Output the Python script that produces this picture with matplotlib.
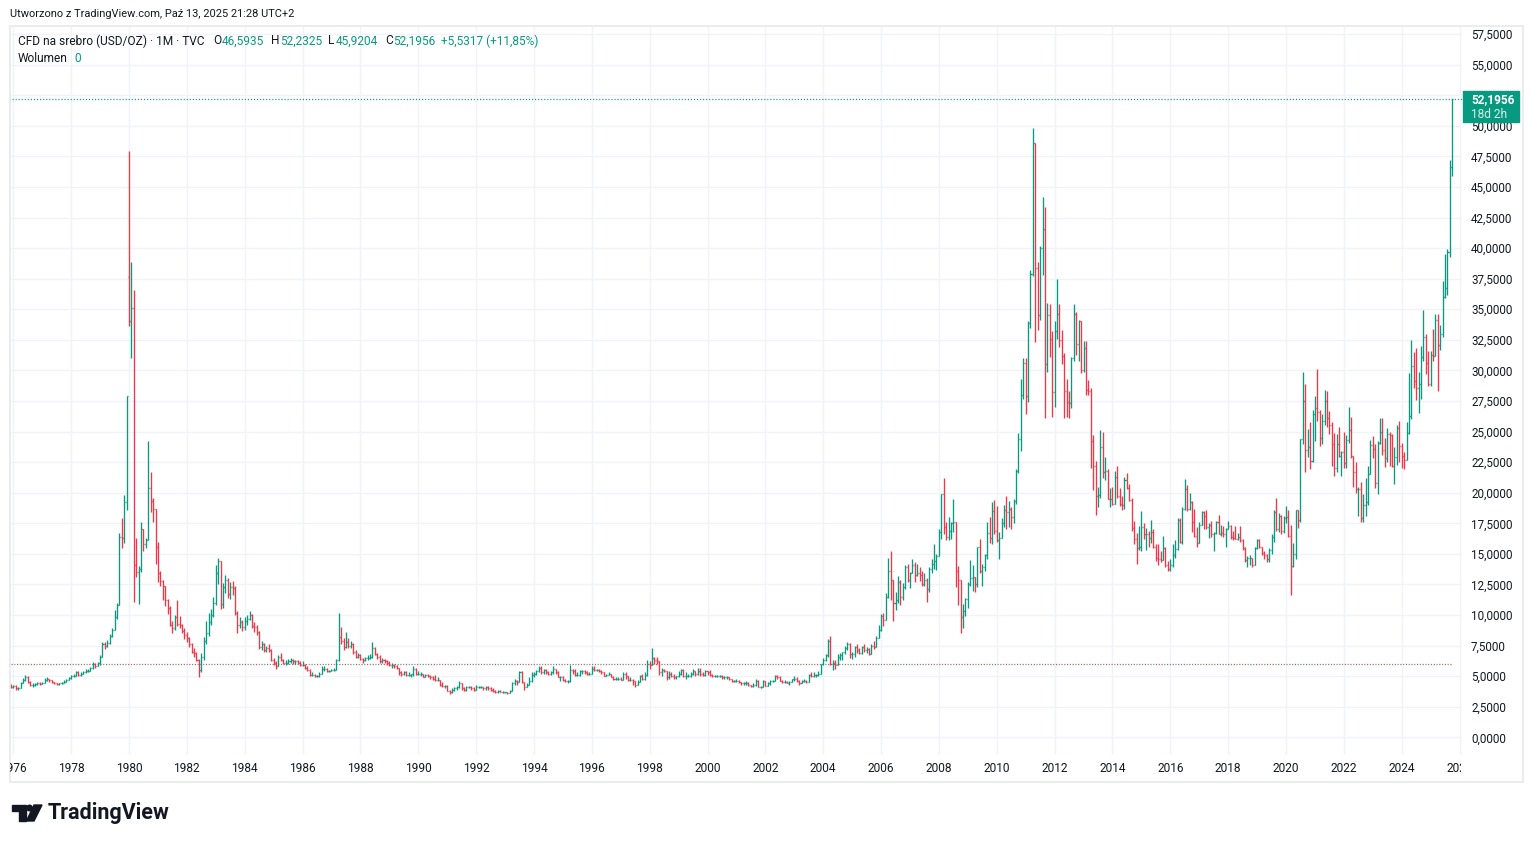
import numpy as np
import matplotlib
matplotlib.use("Agg")
import matplotlib.pyplot as plt
from matplotlib.collections import LineCollection
from matplotlib.patches import Rectangle, Polygon, Circle
from matplotlib.ticker import FuncFormatter
from matplotlib.transforms import Bbox, IdentityTransform, blended_transform_factory

plt.rcParams["lines.scale_dashes"] = False

# miesieczne swiece srebra, Gru 1975 .. Paz 2025
close_1975_79 = [
    4.15,
    4.20, 4.00, 4.05, 4.45, 4.70, 4.95, 4.55, 4.30, 4.30, 4.35, 4.40, 4.38,
    4.45, 4.70, 4.78, 4.65, 4.50, 4.40, 4.35, 4.40, 4.45, 4.55, 4.70, 4.85,
    5.00, 5.05, 5.35, 5.10, 5.20, 5.30, 5.45, 5.45, 5.65, 6.00, 5.85, 6.05,
    6.60, 7.60, 7.45, 7.70, 8.30, 8.80, 9.80, 10.80, 16.40, 16.30, 19.20, 27.90,
]
high_1975_79 = [
    4.35,
    4.30, 4.25, 4.15, 4.55, 4.85, 5.10, 5.00, 4.60, 4.40, 4.45, 4.50, 4.50,
    4.50, 4.85, 4.90, 4.80, 4.68, 4.55, 4.45, 4.48, 4.55, 4.65, 4.78, 4.92,
    5.10, 5.15, 5.45, 5.40, 5.35, 5.45, 5.55, 5.60, 5.75, 6.15, 6.10, 6.15,
    6.70, 7.80, 7.80, 7.95, 8.45, 8.90, 10.40, 11.00, 16.70, 17.90, 19.80, 27.90,
]
low_1975_79 = [
    4.05,
    4.05, 3.90, 3.85, 4.00, 4.40, 4.60, 4.45, 4.20, 4.15, 4.20, 4.28, 4.30,
    4.35, 4.42, 4.60, 4.55, 4.40, 4.32, 4.28, 4.30, 4.35, 4.42, 4.52, 4.65,
    4.80, 4.90, 5.00, 5.00, 5.05, 5.15, 5.25, 5.30, 5.40, 5.60, 5.70, 5.80,
    5.95, 6.55, 7.20, 7.40, 7.60, 8.20, 8.80, 9.70, 10.90, 15.50, 15.90, 18.60,
]

close_1980s = [
    34.0, 35.1, 14.1, 13.5, 13.8, 17.0, 15.8, 16.1, 20.4, 19.3, 18.7, 15.6,
    13.4, 12.8, 12.4, 11.2, 10.6, 9.2, 8.9, 9.8, 9.3, 9.2, 8.7, 8.4,
    8.1, 7.6, 7.0, 6.9, 6.3, 5.5, 6.6, 7.9, 8.5, 9.4, 10.0, 11.0,
    13.4, 14.4, 10.9, 12.3, 12.9, 11.7, 12.3, 12.2, 10.2, 9.2, 9.4, 9.0,
    9.5, 9.7, 10.0, 9.1, 9.0, 8.6, 7.4, 7.6, 7.1, 7.3, 7.1, 6.3,
    6.1, 5.8, 6.6, 6.3, 6.1, 6.1, 6.2, 6.3, 6.2, 6.2, 6.1, 5.9,
    5.9, 5.7, 5.5, 5.1, 5.1, 5.0, 5.0, 5.2, 5.6, 5.6, 5.4, 5.4,
    5.5, 5.5, 6.3, 8.2, 7.9, 7.4, 7.8, 7.5, 7.6, 7.0, 6.6, 6.7,
    6.4, 6.3, 6.5, 6.5, 6.6, 7.3, 6.8, 6.6, 6.2, 6.3, 6.2, 6.1,
    5.9, 5.9, 5.8, 5.7, 5.3, 5.2, 5.3, 5.1, 5.1, 5.2, 5.6, 5.2,
]
high_1980s = [
    47.9, 38.9, 36.6, 16.3, 14.0, 17.6, 16.8, 16.3, 24.2, 21.7, 19.6, 18.7,
    16.0, 13.6, 12.9, 12.0, 11.3, 10.7, 9.5, 10.0, 11.2, 9.9, 9.3, 8.9,
    8.6, 8.2, 7.7, 7.3, 7.0, 6.4, 6.9, 8.2, 9.5, 10.2, 10.5, 11.5,
    14.1, 14.7, 14.2, 12.6, 13.3, 13.0, 12.7, 12.8, 12.4, 10.3, 9.8, 9.6,
    9.8, 10.0, 10.3, 10.1, 9.4, 9.2, 8.7, 7.9, 7.7, 7.5, 7.6, 7.2,
    6.5, 6.2, 6.7, 6.9, 6.4, 6.3, 6.4, 6.5, 6.4, 6.3, 6.3, 6.2,
    6.2, 6.0, 5.8, 5.6, 5.3, 5.2, 5.1, 5.3, 5.8, 5.8, 5.7, 5.5,
    5.6, 5.7, 6.4, 10.2, 9.0, 8.1, 8.6, 8.1, 7.9, 7.7, 7.1, 6.9,
    6.8, 6.5, 6.6, 6.7, 6.8, 7.8, 7.4, 6.9, 6.7, 6.5, 6.4, 6.3,
    6.2, 6.1, 6.0, 5.9, 5.7, 5.4, 5.4, 5.4, 5.3, 5.2, 5.8, 5.7,
]
low_1980s = [
    33.6, 31.0, 11.1, 13.1, 10.9, 13.5, 15.2, 15.5, 16.1, 18.4, 17.6, 14.2,
    12.7, 12.4, 11.2, 10.7, 10.1, 9.1, 8.5, 8.8, 9.1, 8.9, 8.5, 8.0,
    7.8, 7.4, 6.9, 6.6, 6.2, 4.9, 5.3, 6.3, 7.6, 8.3, 9.2, 9.8,
    10.8, 12.5, 10.5, 10.6, 11.8, 11.4, 11.3, 11.6, 10.0, 8.5, 8.9, 8.7,
    8.8, 9.2, 9.6, 8.9, 8.6, 8.4, 7.2, 7.1, 7.0, 7.0, 7.0, 6.2,
    5.9, 5.6, 5.8, 6.2, 6.0, 5.9, 6.0, 6.1, 6.0, 6.0, 6.0, 5.8,
    5.8, 5.6, 5.4, 5.0, 5.0, 4.9, 4.9, 4.9, 5.2, 5.4, 5.3, 5.3,
    5.4, 5.4, 5.5, 6.2, 7.6, 7.1, 7.3, 7.3, 7.3, 6.8, 6.5, 6.5,
    6.3, 6.1, 6.2, 6.3, 6.4, 6.5, 6.7, 6.4, 6.1, 6.1, 6.1, 5.9,
    5.8, 5.7, 5.7, 5.6, 5.1, 5.0, 5.1, 5.0, 5.0, 4.9, 5.0, 5.1,
]

close_1990s = [
    5.2, 5.2, 4.9, 5.1, 5.0, 4.9, 4.8, 4.7, 4.7, 4.3, 4.2, 4.2,
    3.8, 3.7, 3.9, 4.0, 4.1, 4.4, 4.0, 3.9, 4.1, 4.1, 4.0, 3.9,
    4.1, 4.1, 4.1, 4.0, 4.1, 4.0, 3.9, 3.8, 3.7, 3.8, 3.7, 3.7,
    3.7, 3.6, 3.8, 4.4, 4.6, 4.5, 5.3, 4.5, 4.1, 4.3, 4.6, 5.1,
    5.2, 5.4, 5.7, 5.3, 5.5, 5.3, 5.2, 5.3, 5.6, 5.3, 4.9, 4.9,
    4.7, 4.6, 4.6, 5.5, 5.4, 5.1, 5.1, 5.4, 5.4, 5.3, 5.2, 5.2,
    5.6, 5.5, 5.5, 5.4, 5.3, 5.0, 5.1, 5.2, 4.9, 4.8, 4.8, 4.8,
    4.7, 5.2, 5.0, 4.7, 4.7, 4.6, 4.3, 4.5, 5.0, 4.8, 5.1, 6.0,
    5.9, 6.5, 6.3, 6.2, 5.3, 5.5, 5.4, 4.9, 5.2, 5.0, 4.9, 5.0,
    5.2, 5.5, 5.0, 5.0, 5.0, 5.2, 5.4, 5.2, 5.4, 5.2, 5.1, 5.4,
]
high_1990s = [
    5.4, 5.3, 5.2, 5.2, 5.2, 5.1, 5.0, 5.1, 4.9, 4.7, 4.5, 4.3,
    4.3, 3.9, 4.0, 4.1, 4.2, 4.6, 4.4, 4.1, 4.2, 4.2, 4.2, 4.1,
    4.3, 4.2, 4.2, 4.1, 4.2, 4.2, 4.1, 4.0, 3.9, 3.9, 3.9, 3.8,
    3.7, 3.7, 3.9, 4.5, 4.8, 4.7, 5.4, 5.4, 4.5, 4.4, 4.9, 5.3,
    5.3, 5.5, 5.8, 5.8, 5.6, 5.6, 5.4, 5.4, 5.8, 5.6, 5.4, 5.0,
    5.0, 4.8, 4.7, 5.9, 5.6, 5.6, 5.3, 5.5, 5.5, 5.5, 5.4, 5.3,
    5.8, 5.8, 5.6, 5.6, 5.5, 5.3, 5.2, 5.3, 5.2, 5.0, 4.9, 4.9,
    4.9, 5.3, 5.3, 5.0, 4.9, 4.8, 4.6, 4.7, 5.1, 5.2, 5.3, 6.3,
    6.2, 7.3, 6.6, 6.6, 6.2, 5.7, 5.6, 5.4, 5.4, 5.3, 5.2, 5.0,
    5.4, 5.6, 5.6, 5.3, 5.2, 5.3, 5.6, 5.4, 5.7, 5.7, 5.3, 5.5,
]
low_1990s = [
    5.1, 5.0, 4.9, 4.9, 4.9, 4.8, 4.7, 4.6, 4.6, 4.2, 4.1, 4.0,
    3.8, 3.55, 3.6, 3.8, 3.9, 4.0, 3.9, 3.8, 3.8, 4.0, 3.9, 3.8,
    3.9, 4.0, 4.0, 3.9, 3.9, 3.9, 3.8, 3.7, 3.6, 3.6, 3.7, 3.6,
    3.6, 3.5, 3.6, 3.8, 4.3, 4.3, 4.5, 4.4, 3.9, 4.1, 4.3, 4.5,
    4.9, 5.1, 5.3, 5.2, 5.2, 5.2, 5.1, 5.1, 5.2, 5.2, 4.9, 4.6,
    4.6, 4.5, 4.4, 4.5, 5.2, 5.0, 5.0, 5.0, 5.2, 5.2, 5.1, 5.1,
    5.2, 5.4, 5.4, 5.3, 5.2, 5.0, 5.0, 5.1, 4.9, 4.7, 4.7, 4.7,
    4.7, 4.7, 4.8, 4.6, 4.6, 4.3, 4.15, 4.3, 4.5, 4.7, 4.7, 5.0,
    5.6, 6.0, 6.0, 6.0, 5.1, 5.0, 5.3, 4.7, 4.8, 4.9, 4.8, 4.8,
    4.9, 5.1, 4.9, 4.8, 4.9, 4.9, 5.1, 5.0, 5.1, 5.0, 5.0, 5.0,
]

close_2000s = [
    5.3, 5.1, 5.0, 5.0, 5.0, 5.0, 4.9, 4.9, 4.9, 4.8, 4.6, 4.6,
    4.6, 4.5, 4.4, 4.4, 4.4, 4.3, 4.2, 4.3, 4.6, 4.1, 4.1, 4.6,
    4.2, 4.4, 4.6, 4.6, 5.0, 4.9, 4.6, 4.5, 4.5, 4.4, 4.5, 4.8,
    4.8, 4.6, 4.4, 4.6, 4.6, 4.5, 5.1, 5.0, 5.1, 5.1, 5.2, 6.0,
    6.3, 6.7, 7.9, 6.0, 6.1, 5.9, 6.6, 6.7, 7.0, 7.3, 7.6, 6.8,
    6.8, 7.4, 7.1, 6.9, 7.4, 7.1, 7.2, 6.8, 7.5, 7.4, 8.1, 8.8,
    9.9, 9.6, 11.5, 13.6, 12.9, 11.0, 11.2, 12.7, 11.5, 12.3, 13.9, 12.9,
    13.4, 14.1, 13.3, 13.4, 13.3, 12.5, 12.9, 12.1, 13.8, 14.2, 14.4, 14.8,
    16.8, 19.9, 17.2, 16.4, 16.9, 17.5, 17.6, 13.6, 12.9, 9.8, 10.3, 11.3,
    12.5, 13.0, 13.1, 12.5, 15.6, 13.6, 13.9, 14.9, 16.7, 16.3, 18.5, 16.9,
]
high_2000s = [
    5.4, 5.5, 5.2, 5.1, 5.1, 5.1, 5.1, 5.0, 5.0, 4.9, 4.8, 4.7,
    4.8, 4.7, 4.5, 4.5, 4.6, 4.5, 4.3, 4.4, 4.8, 4.7, 4.2, 4.7,
    4.6, 4.5, 4.7, 4.7, 5.1, 5.1, 5.0, 4.7, 4.7, 4.6, 4.6, 4.8,
    5.0, 4.9, 4.7, 4.7, 4.8, 4.7, 5.2, 5.3, 5.3, 5.2, 5.4, 6.0,
    6.5, 6.8, 8.0, 8.3, 6.3, 6.3, 6.8, 6.9, 7.0, 7.5, 7.8, 7.7,
    7.0, 7.5, 7.6, 7.3, 7.5, 7.6, 7.4, 7.3, 7.6, 7.9, 8.3, 9.2,
    10.1, 10.2, 11.8, 14.7, 15.2, 12.8, 11.9, 13.2, 12.9, 12.6, 14.1, 14.2,
    13.5, 14.6, 14.3, 14.2, 13.9, 13.6, 13.4, 13.0, 13.9, 14.6, 15.8, 15.0,
    17.0, 19.9, 21.2, 17.6, 18.0, 17.6, 19.5, 17.4, 14.0, 12.9, 10.9, 11.4,
    12.7, 14.5, 14.1, 13.1, 15.6, 16.2, 14.2, 15.0, 17.6, 18.0, 19.2, 19.4,
]
low_2000s = [
    5.1, 5.0, 4.9, 4.9, 4.9, 4.9, 4.8, 4.8, 4.8, 4.7, 4.5, 4.5,
    4.5, 4.4, 4.3, 4.3, 4.3, 4.2, 4.1, 4.1, 4.2, 4.1, 4.0, 4.1,
    4.2, 4.2, 4.3, 4.5, 4.6, 4.8, 4.6, 4.4, 4.4, 4.4, 4.3, 4.5,
    4.6, 4.5, 4.3, 4.4, 4.5, 4.4, 4.5, 4.9, 4.9, 4.9, 5.0, 5.2,
    5.9, 6.2, 6.6, 5.9, 5.5, 5.6, 5.9, 6.3, 6.3, 6.8, 7.1, 6.5,
    6.4, 6.6, 6.9, 6.8, 6.8, 7.0, 6.9, 6.7, 6.8, 7.2, 7.4, 8.1,
    8.7, 9.1, 9.6, 11.4, 11.2, 9.5, 10.4, 11.0, 10.8, 11.2, 12.1, 12.7,
    12.2, 13.4, 12.7, 13.2, 12.8, 12.4, 12.4, 11.1, 11.9, 13.4, 13.8, 13.7,
    14.8, 16.2, 16.6, 16.1, 16.1, 16.2, 16.8, 12.3, 10.8, 8.5, 8.9, 9.9,
    10.6, 12.4, 12.0, 11.9, 12.3, 13.4, 12.4, 13.6, 14.6, 15.9, 15.8, 16.6,
]

close_2010s = [
    16.1, 16.3, 17.5, 18.6, 18.4, 18.7, 18.0, 19.3, 21.8, 24.4, 28.0, 30.6,
    27.9, 33.9, 37.9, 48.6, 38.4, 34.5, 40.0, 41.6, 30.5, 34.5, 32.6, 28.2,
    33.2, 34.6, 32.5, 31.2, 28.3, 27.4, 27.3, 31.0, 34.6, 32.2, 34.0, 30.0,
    31.8, 28.4, 28.3, 24.2, 22.2, 19.7, 19.8, 23.7, 21.7, 21.8, 19.5, 19.5,
    19.1, 21.3, 19.7, 19.1, 19.0, 21.0, 20.4, 19.4, 17.1, 16.2, 15.5, 15.6,
    17.2, 16.6, 16.6, 16.3, 16.8, 15.6, 14.7, 14.6, 14.5, 15.5, 14.1, 13.8,
    14.1, 14.9, 15.4, 17.8, 16.0, 18.7, 20.3, 18.7, 19.2, 17.6, 16.5, 15.9,
    17.4, 18.4, 18.1, 17.2, 17.4, 16.6, 16.7, 17.6, 16.6, 16.7, 16.6, 17.0,
    17.3, 16.4, 16.3, 16.2, 16.4, 16.1, 15.5, 14.5, 14.7, 14.7, 14.1, 15.5,
    16.1, 15.6, 15.1, 14.9, 14.6, 15.3, 16.4, 18.4, 17.0, 18.1, 16.9, 17.9,
]
high_2010s = [
    18.9, 16.8, 17.9, 19.0, 19.7, 19.3, 18.8, 19.5, 21.9, 24.9, 29.3, 31.0,
    31.0, 34.0, 38.2, 49.8, 48.0, 38.9, 40.2, 44.2, 43.4, 35.5, 35.4, 33.2,
    34.0, 37.5, 35.4, 33.3, 31.4, 29.3, 28.3, 31.1, 35.4, 34.8, 34.1, 34.0,
    32.4, 32.4, 29.2, 28.6, 24.7, 22.6, 20.5, 25.1, 25.0, 22.9, 21.9, 20.4,
    20.5, 21.8, 22.2, 20.4, 19.7, 21.3, 21.6, 20.7, 19.6, 17.7, 16.7, 17.3,
    18.5, 17.5, 17.1, 16.9, 17.8, 17.0, 15.8, 15.8, 15.2, 16.5, 15.6, 14.4,
    14.6, 15.8, 16.1, 17.9, 17.9, 18.8, 21.1, 20.6, 20.0, 19.3, 18.7, 17.2,
    17.6, 18.5, 18.5, 18.6, 17.5, 17.7, 16.8, 17.7, 18.2, 17.4, 17.3, 17.1,
    17.7, 17.4, 16.9, 17.3, 16.7, 17.3, 16.2, 15.6, 14.8, 14.9, 14.7, 15.6,
    16.2, 16.2, 15.6, 15.2, 15.0, 15.5, 16.6, 18.6, 19.6, 18.3, 18.2, 18.1,
]
low_2010s = [
    16.0, 14.6, 16.4, 17.2, 17.0, 17.2, 17.0, 17.5, 19.1, 21.6, 23.4, 27.7,
    26.4, 27.4, 33.5, 37.7, 32.3, 33.3, 34.1, 37.8, 26.1, 29.9, 31.1, 26.2,
    27.0, 32.6, 31.9, 30.5, 26.1, 26.2, 26.1, 26.9, 30.8, 31.3, 30.8, 29.8,
    29.9, 28.0, 28.0, 22.0, 20.2, 18.2, 18.8, 19.6, 21.2, 21.0, 19.5, 18.8,
    19.0, 19.4, 19.6, 18.9, 18.6, 18.7, 20.3, 19.3, 16.9, 15.8, 14.2, 15.3,
    15.2, 16.2, 15.3, 15.6, 15.9, 15.5, 14.4, 14.1, 14.3, 14.5, 13.9, 13.6,
    13.6, 13.9, 14.7, 15.3, 15.9, 15.8, 18.6, 18.5, 18.6, 16.8, 16.4, 15.6,
    15.9, 17.4, 17.0, 17.0, 16.3, 16.4, 15.2, 16.6, 16.6, 16.5, 16.4, 15.6,
    17.0, 16.2, 16.1, 16.2, 16.1, 16.0, 15.3, 14.3, 13.9, 14.1, 13.9, 14.1,
    15.4, 15.5, 14.9, 14.6, 14.3, 14.3, 15.0, 16.0, 16.9, 16.8, 16.6, 16.7,
]

close_2020s = [
    18.0, 16.5, 14.0, 15.0, 18.6, 17.8, 24.4, 27.5, 23.5, 23.7, 22.6, 26.4,
    26.9, 26.6, 24.5, 25.9, 27.5, 26.1, 25.5, 24.0, 22.0, 24.0, 23.0, 23.3,
    22.4, 24.3, 25.1, 23.0, 21.7, 20.3, 20.3, 17.9, 19.0, 19.2, 21.5, 23.9,
    23.6, 20.8, 24.1, 25.0, 23.5, 22.8, 24.8, 24.7, 22.2, 22.9, 25.3, 23.8,
    23.0, 22.7, 24.9, 26.3, 30.4, 29.1, 28.6, 28.9, 31.1, 32.7, 30.6, 28.9,
    31.3, 31.2, 34.1, 32.1, 33.0, 36.0, 36.7, 39.7, 46.6, 52.1956,
]
high_2020s = [
    18.9, 18.6, 17.4, 15.9, 18.6, 18.4, 24.4, 29.9, 28.9, 25.2, 25.8, 26.8,
    27.9, 30.1, 26.8, 26.4, 28.4, 28.3, 26.7, 25.8, 24.9, 24.8, 25.4, 23.4,
    25.0, 24.7, 27.0, 26.2, 23.0, 22.5, 20.5, 20.9, 19.9, 21.2, 22.2, 24.3,
    24.6, 24.0, 24.2, 26.1, 26.1, 24.5, 25.3, 25.0, 24.8, 23.7, 25.5, 25.9,
    24.1, 23.3, 25.8, 29.8, 32.5, 31.5, 31.8, 29.9, 32.0, 34.9, 33.0, 31.6,
    31.6, 33.4, 34.6, 34.6, 33.7, 37.3, 39.5, 39.9, 47.2, 52.2325,
]
low_2020s = [
    17.5, 16.4, 11.6, 13.9, 14.6, 17.1, 17.6, 24.0, 21.7, 22.9, 21.9, 22.5,
    24.2, 25.9, 23.8, 24.0, 25.5, 25.4, 24.8, 22.2, 21.4, 21.7, 22.9, 21.4,
    22.0, 22.0, 24.1, 22.8, 20.5, 20.0, 18.1, 17.6, 17.6, 18.1, 19.0, 21.9,
    22.8, 20.4, 19.9, 24.0, 23.1, 22.1, 22.5, 22.2, 22.1, 20.7, 22.3, 22.5,
    22.0, 21.9, 22.7, 24.8, 26.0, 28.6, 27.6, 26.5, 27.7, 30.8, 29.7, 28.7,
    28.7, 30.8, 31.2, 28.3, 31.7, 32.7, 35.9, 36.2, 39.3, 45.9204,
]

first_open = 4.20
open_gaps = {(1980, 1): 37.6, (2025, 10): 46.5935}

last_price = 52.1956
ref_line = 5.96
y_ticks = np.arange(0, 57.6, 2.5)
x_years = list(range(1976, 2027, 2))

UP = "#089981"
DOWN = "#f23645"
TXT = "#131722"
GRID = "#f0f3fa"
FONT = ["Roboto", "DejaVu Sans"]

closes = close_1975_79 + close_1980s + close_1990s + close_2000s + close_2010s + close_2020s
highs = high_1975_79 + high_1980s + high_1990s + high_2000s + high_2010s + high_2020s
lows = low_1975_79 + low_1980s + low_1990s + low_2000s + low_2010s + low_2020s

n = len(closes)
years = [1975 + (11 + i) // 12 for i in range(n)]
months = [(11 + i) % 12 + 1 for i in range(n)]
t = np.array([y + (m - 1) / 12 for y, m in zip(years, months)])
opens = [first_open] + closes[:-1]
for i, (y, m) in enumerate(zip(years, months)):
    if (y, m) in open_gaps:
        opens[i] = open_gaps[(y, m)]

W, H = 1534, 843
fig = plt.figure(figsize=(W / 100, H / 100), dpi=100)
fig.patch.set_facecolor("white")
ax = fig.add_axes([9 / W, 1 - 755 / H, (1462 - 9) / W, (755 - 27) / H])

w = 0.42 / 12
seg_up, seg_dn = [], []
for ti, o, h, l, c in zip(t, opens, highs, lows, closes):
    h = max(h, o, c)
    l = min(l, o, c)
    segs = [[(ti, l), (ti, h)], [(ti - w, o), (ti, o)], [(ti, c), (ti + w, c)]]
    (seg_up if c >= o else seg_dn).extend(segs)
ax.add_collection(LineCollection(seg_up, colors=UP, linewidths=0.95, capstyle="butt", zorder=3))
ax.add_collection(LineCollection(seg_dn, colors=DOWN, linewidths=0.95, capstyle="butt", zorder=3))

ax.set_xlim(1975.851, 2026.085)
ax.set_ylim(-1.447, 58.08)

# linie pomocnicze
ax.axhline(last_price, color=UP, lw=0.9, ls=(0, (0.8, 1.4)), zorder=2)
ax.hlines(ref_line, t[0], t[-1], color=DOWN, lw=0.9, ls=(0, (0.8, 3.2)), zorder=2)
ax.hlines(ref_line, t[0], t[-1], color="#22ab94", lw=0.9, ls=(2.0, (0.8, 3.2)), zorder=2)

ax.set_xticks(x_years)
ax.set_yticks(y_ticks)
ax.grid(True, color=GRID, lw=1.0, zorder=0)
ax.tick_params(axis="x", length=0, labelbottom=False)
ax.yaxis.tick_right()
ax.tick_params(axis="y", length=0, pad=6.5, labelsize=8.4, labelcolor=TXT)
ax.yaxis.set_major_formatter(FuncFormatter(lambda v, p: f"{v:.4f}".replace(".", ",")))
for lbl in ax.get_yticklabels():
    lbl.set_family(FONT)
for s in ax.spines.values():
    s.set_visible(False)

# etykieta 52,5000 schowana za znacznikiem ceny - widoczna tylko nad nim
hidden = ax.yaxis.get_major_ticks()[list(y_ticks).index(52.5)].label2
hidden.set_clip_box(Bbox.from_extents(0, H - 91, W, H))
hidden.set_clip_on(True)

# etykiety osi czasu, przyciete do obszaru wykresu
clip = Bbox.from_extents(10, 0, 1461, H)
tr = blended_transform_factory(ax.transData, fig.transFigure)
for yr in x_years:
    tx = fig.text(yr, 1 - 768 / H, str(yr), transform=tr, ha="center", va="center",
                  fontsize=8.6, color=TXT, family=FONT)
    tx.set_clip_box(clip)
    tx.set_clip_on(True)

# ramka wykresu
frame = Rectangle((9.5, H - 782), 1513, 782 - 26, fill=False, ec="#e8e9eb", lw=1.2,
                  transform=IdentityTransform())
fig.add_artist(frame)

def ptext(px, py, s, **kw):
    kw.setdefault("family", FONT)
    kw.setdefault("va", "center")
    return fig.text(px / W, 1 - py / H, s, **kw)

ptext(10, 14, "Utworzono z TradingView.com, Paź 13, 2025 21:28 UTC+2", fontsize=7.9, color=TXT)

legend = [
    (18, "CFD na srebro (USD/OZ) · 1M · TVC", TXT),
    (213, "O", TXT), (222, "46,5935", UP),
    (271, "H", TXT), (280, "52,2325", UP),
    (328, "L", TXT), (336, "45,9204", UP),
    (385, "C", TXT), (393, "52,1956", UP),
    (441, "+5,5317 (+11,85%)", UP),
]
for px, s, col in legend:
    ptext(px, 41, s, fontsize=8.6, color=col)
ptext(18, 58, "Wolumen", fontsize=8.6, color=TXT)
ptext(74, 58, "0", fontsize=8.6, color=UP)

# znacznik ostatniej ceny
tag = Rectangle((1463, H - 122), 56, 31, color=UP, transform=IdentityTransform(), zorder=5)
fig.add_artist(tag)
ptext(1471, 100, "52,1956", fontsize=8.6, color="white", weight="bold", zorder=6)
ptext(1471, 114, "18d 2h", fontsize=8.6, color="#d7f0ea", zorder=6)

# logo TradingView
logo_T = Polygon([(12, H - 805), (25.5, H - 805), (25.5, H - 821), (18.5, H - 821),
                  (18.5, H - 811), (12, H - 811)], closed=True, color=TXT,
                 transform=IdentityTransform())
logo_dot = Circle((29.5, H - 808), 2.8, color=TXT, transform=IdentityTransform())
logo_slash = Polygon([(34, H - 805), (42, H - 805), (34, H - 821), (26.5, H - 821)],
                     closed=True, color=TXT, transform=IdentityTransform())
for p in (logo_T, logo_dot, logo_slash):
    fig.add_artist(p)
ptext(48, 813, "TradingView", fontsize=15.5, color=TXT, weight="bold")

fig.savefig("out.png", dpi=100, facecolor="white")
